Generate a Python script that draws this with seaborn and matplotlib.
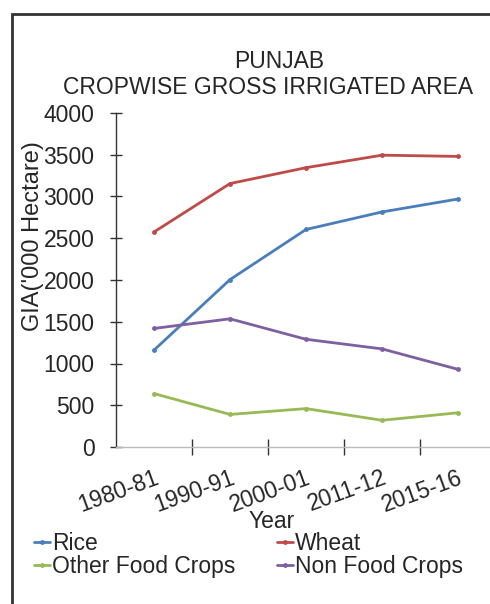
import matplotlib
matplotlib.use("Agg")
import matplotlib.pyplot as plt
import seaborn as sns
import pandas as pd
from matplotlib.patches import Rectangle

# data
years = ["1980-81", "1990-91", "2000-01", "2011-12", "2015-16"]
rice = [1160, 2005, 2605, 2815, 2970]
wheat = [2575, 3155, 3345, 3495, 3480]
other_food = [640, 390, 460, 320, 410]
non_food = [1420, 1535, 1290, 1175, 930]

series = ["Rice", "Wheat", "Other Food Crops", "Non Food Crops"]
colors = ["#4a7ebb", "#be4b48", "#98b954", "#7d60a0"]

df = pd.DataFrame({"Year": years, "Rice": rice, "Wheat": wheat,
                   "Other Food Crops": other_food, "Non Food Crops": non_food})
long = df.melt(id_vars="Year", var_name="Crop", value_name="GIA")

sns.set_theme(style="white")
plt.rcParams["font.family"] = ["Liberation Sans", "DejaVu Sans"]
FS = 16.5

W, H = 490, 604
fig = plt.figure(figsize=(W / 100, H / 100), dpi=100)
ax = fig.add_axes([116 / W, 1 - 447 / H, 380 / W, 334 / H])

sns.lineplot(data=long, x="Year", y="GIA", hue="Crop", hue_order=series,
             palette=colors, marker="o", markersize=3.5, markeredgewidth=0,
             linewidth=2, sort=False, ax=ax)

ax.set_ylim(0, 4000)
ax.set_xlim(-0.5, len(years) - 0.5)
ax.set_yticks(range(0, 4001, 500))
ax.tick_params(axis="y", which="major", direction="inout", length=9, width=1,
               color="#333333", labelsize=FS, pad=11, left=True)
ax.set_xticks(range(len(years)))
ax.set_xticklabels(years, rotation=20, ha="right", rotation_mode="anchor", fontsize=FS)
ax.tick_params(axis="x", which="major", length=0, pad=14, bottom=True)
ax.set_xticks([i + 0.5 for i in range(len(years) - 1)], minor=True)
ax.tick_params(axis="x", which="minor", direction="inout", length=12, width=1,
               color="#333333", bottom=True)

for s in ["top", "right"]:
    ax.spines[s].set_visible(False)
ax.spines["left"].set_color("#333333")
ax.spines["left"].set_linewidth(1)
ax.spines["bottom"].set_color("#bbbbbb")
ax.spines["bottom"].set_linewidth(1)

ax.set_ylabel("")
ax.set_xlabel("")
fig.text(33 / W, 1 - 236 / H, "GIA('000 Hectare)", rotation=90, ha="center", va="center", fontsize=17)
fig.text(272 / W, 1 - 521 / H, "Year", ha="center", va="center", fontsize=FS)

fig.text(279 / W, 1 - 61 / H, "PUNJAB", ha="center", va="center", fontsize=FS)
fig.text(268 / W, 1 - 88 / H, "CROPWISE GROSS IRRIGATED AREA", ha="center", va="center", fontsize=FS)

# legend filled row by row like the original
handles, labels = ax.get_legend_handles_labels()
order = [0, 2, 1, 3]
ax.legend([handles[i] for i in order], [labels[i] for i in order], ncol=2, frameon=False,
          fontsize=FS, loc="upper left", bbox_to_anchor=(34 / W, 1 - 532 / H),
          bbox_transform=fig.transFigure, handlelength=0.7, handletextpad=0.1,
          columnspacing=1.8, labelspacing=0.0, borderaxespad=0, borderpad=0)

fig.patches.append(Rectangle((12 / W, -0.1), 1.2, 1 - 14 / H + 0.1, transform=fig.transFigure,
                             fill=False, edgecolor="#333333", linewidth=2))

fig.savefig("out.png", dpi=100)
